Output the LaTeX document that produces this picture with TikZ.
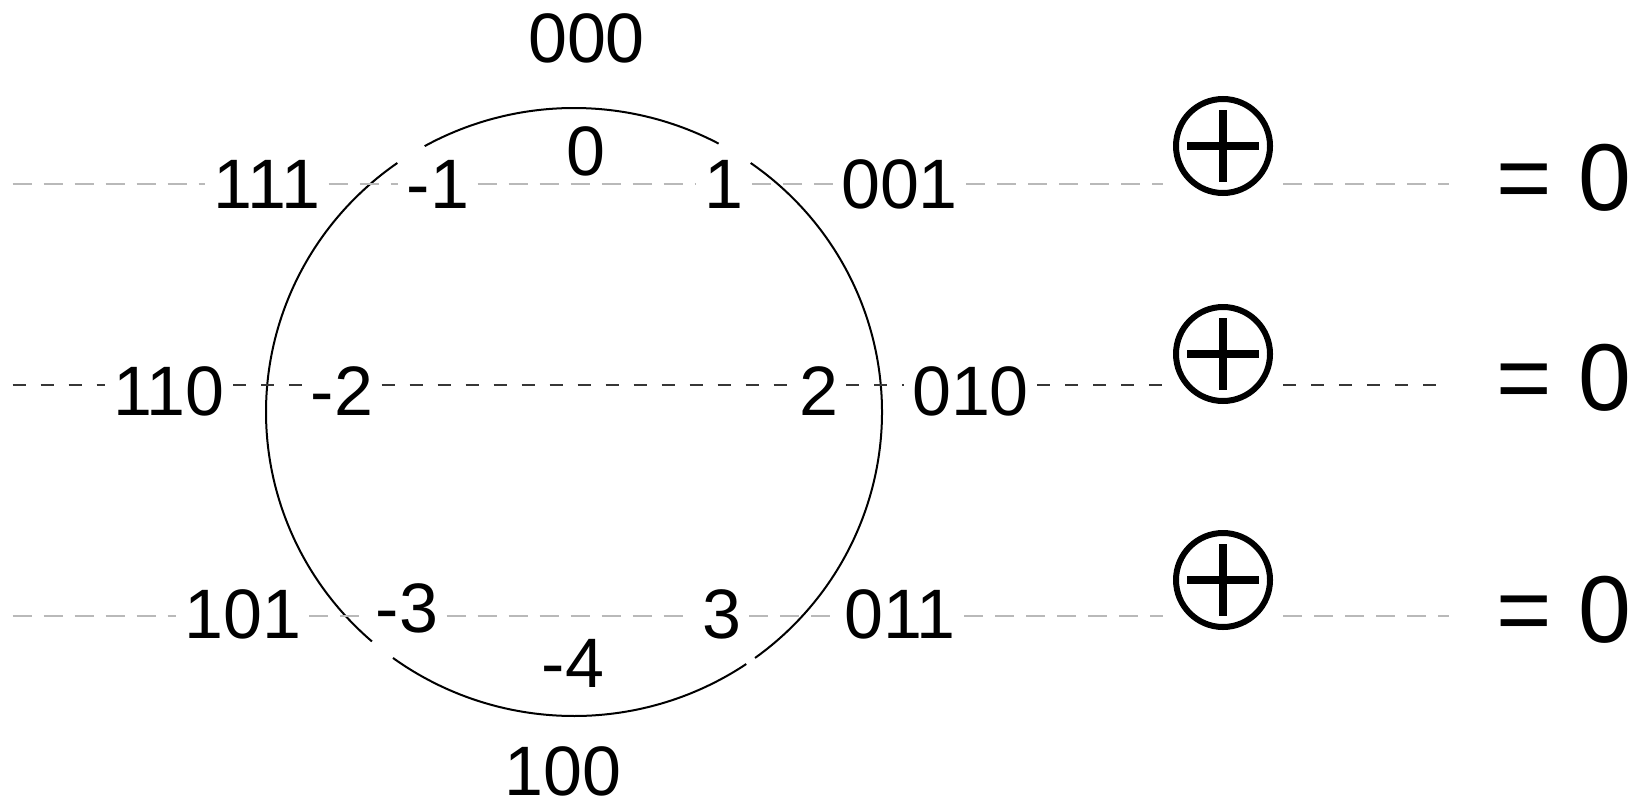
\documentclass[tikz,border=0pt]{standalone}
\usepackage{fontspec}
\setmainfont{Liberation Sans}
\definecolor{lightgr}{RGB}{185,185,185}
\definecolor{darkgr}{RGB}{55,55,55}
\begin{document}
\begin{tikzpicture}[x=0.5pt,y=0.5pt,
  lab/.style={font=\fontsize{35}{42}\selectfont, inner sep=4pt, text height=25pt, text depth=0pt},
  res/.style={font=\fontsize{47.5}{56}\selectfont, inner sep=0pt, anchor=base},
  xorop/.style={circle, draw, line width=3pt, minimum size=47pt, inner sep=0pt, outer sep=6.5pt},
  plusbar/.style={line width=4pt},
  lightdash/.style={draw=lightgr, line width=1pt, dash pattern=on 9.5pt off 6pt},
  darkdash/.style={draw=darkgr, line width=0.7pt, dash pattern=on 6.5pt off 7.5pt},
  ring/.style={line width=1pt}]
\useasboundingbox (0,0) rectangle (1636,811);

% the ring of 3-bit codes, drawn as four arcs
\coordinate (c) at (574,399);
\draw[ring] (c) ++(62:154pt and 152pt) arc[start angle=62, end angle=119, x radius=154pt, y radius=152pt];
\draw[ring] (c) ++(125:154pt and 152pt) arc[start angle=125, end angle=229, x radius=154pt, y radius=152pt];
\draw[ring] (c) ++(234:154pt and 152pt) arc[start angle=234, end angle=304, x radius=154pt, y radius=152pt];
\draw[ring] (c) ++(306:154pt and 152pt) arc[start angle=306, end angle=415, x radius=154pt, y radius=152pt];

% labels
\node[lab] (n000) at (586.5,773) {000};
\node[lab] (n0)   at (586,661)   {0};
\node[lab] (n111) at (267,628)   {111};
\node[lab] (nm1)  at (438,628)   {-1};
\node[lab] (n1)   at (724,628)   {1};
\node[lab] (n001) at (899.5,628) {001};
\node[lab] (n110) at (169,421)   {110};
\node[lab] (nm2)  at (342,421)   {-2};
\node[lab] (n2)   at (818.5,421) {2};
\node[lab] (n010) at (970.5,421) {010};
\node[lab] (n101) at (242.6,198) {101};
\node[lab] (nm3)  at (407,203.5) {-3};
\node[lab] (n3)   at (721.5,198) {3};
\node[lab] (n011) at (900,198)   {011};
\node[lab] (nm4)  at (573,148.5) {-4};
\node[lab, inner sep=1pt] (n100) at (563,41) {100};

% xor operators
\node[xorop] (o1) at (1223,665) {};
\node[xorop] (o2) at (1223,457) {};
\node[xorop] (o3) at (1223,231) {};
\foreach \o in {o1,o2,o3}{
  \draw[plusbar] ([yshift=18pt]\o.center) -- ([yshift=-18pt]\o.center)
                 ([xshift=-18pt]\o.center) -- ([xshift=18pt]\o.center);
}

% results
\node[res] (q1) at (1564,601) {= 0};
\node[res] (q2) at (1564,401) {= 0};
\node[res] (q3) at (1564,169) {= 0};

% row lines
\coordinate (s1) at (12.5,627);  \coordinate (e1) at (1449,627);
\coordinate (s2) at (12.5,426);  \coordinate (e2) at (1445,426);
\coordinate (s3) at (12.5,195);  \coordinate (e3) at (1449,195);

\draw[lightdash] (s1) -- (n111.west |- s1)
  (n111.east |- s1) -- (nm1.west |- s1)
  (nm1.east |- s1) -- (n1.west |- s1)
  (n1.east |- s1) -- (n001.west |- s1)
  (n001.east |- s1) -- (o1.west |- s1)
  (o1.east |- s1) -- (e1);
\draw[darkdash] (s2) -- (n110.west |- s2)
  (n110.east |- s2) -- (nm2.west |- s2)
  (nm2.east |- s2) -- (n2.west |- s2)
  (n2.east |- s2) -- (n010.west |- s2)
  (n010.east |- s2) -- (o2.west |- s2)
  (o2.east |- s2) -- (e2);
\draw[lightdash] (s3) -- (n101.west |- s3)
  (n101.east |- s3) -- (nm3.west |- s3)
  (nm3.east |- s3) -- (n3.west |- s3)
  (n3.east |- s3) -- (n011.west |- s3)
  (n011.east |- s3) -- (o3.west |- s3)
  (o3.east |- s3) -- (e3);
\end{tikzpicture}
\end{document}
